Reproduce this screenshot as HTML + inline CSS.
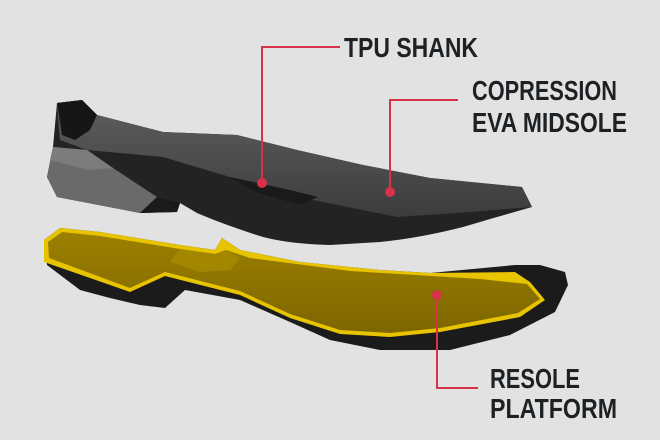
<!DOCTYPE html>
<html><head><meta charset="utf-8"><style>
html,body{margin:0;padding:0;background:#e2e2e2;}
svg{display:block}
text{font-family:"Liberation Sans",sans-serif;font-weight:bold;fill:#1e2124;}
</style></head><body>
<svg width="660" height="440" viewBox="0 0 660 440">
<defs>
<linearGradient id="up" x1="0" y1="0" x2="0" y2="1"><stop offset="0" stop-color="#5e5e5e"/><stop offset="1" stop-color="#3c3c3c"/></linearGradient>
<linearGradient id="yel" x1="0" y1="0" x2="0" y2="1"><stop offset="0" stop-color="#9c8000"/><stop offset="1" stop-color="#7e6600"/></linearGradient>
</defs>
<!-- upper midsole outline (black base) -->
<path d="M57,103 L82,100 L97,115 L163,132 L237,135 L297,150 L363,165 L430,178 L522,187 L532,207 L497,217 L463,227 Q420,238 380,242 L330,245 Q290,244 263,237 Q225,225 197,213 L180,203 L177,212 L140,213 L57,197 L47,177 L53,147 Z" fill="#232323"/>
<!-- gray upper surface -->
<path d="M57,103 L82,100 L97,115 L163,132 L237,135 L297,150 L363,165 L430,178 L522,187 L532,207 L470,212 L397,217 L313,200 L230,177 L163,157 L87,150 L60,140 Z" fill="url(#up)"/>
<path d="M57,103 L82,100 L97,115 L90,130 L75,140 L62,135 Z" fill="#161616"/>
<path d="M230,177 L290,190 L318,197 L300,205 L255,192 Z" fill="#1a1a1a"/>
<!-- heel gray -->
<path d="M53,147 L87,150 L113,168 L157,197 L140,213 L57,197 L47,177 Z" fill="#6a6a6a"/>
<path d="M53,147 L87,150 L113,168 L88,170 L50,160 Z" fill="#7c7c7c"/>
<path d="M157,197 L180,203 L177,212 L140,213 Z" fill="#1a1a1a"/>
<!-- lower sole black -->
<path d="M44,240 L47,265 L80,290 L110,298 L140,305 L165,308 L185,290 L240,300 L290,322 L330,340 L380,350 L450,350 L510,335 L555,312 L568,285 L565,272 L540,265 L515,265 L430,273 L380,270 L300,262 L240,250 L222,238 L215,250 L180,245 L100,232 L60,228 Z" fill="#1b1b1b"/>
<!-- yellow rim -->
<path d="M44,240 L44,262 L130,292 L165,276 L240,295 L290,318 L340,334 L390,337 L440,332 L520,317 L545,300 L530,282 L515,272 L430,273 L380,270 L300,262 L240,250 L222,238 L215,250 L180,245 L100,232 L60,228 Z" fill="#e8c300"/>
<!-- yellow inner -->
<path d="M48,242 L49,258 L130,288 L165,272 L240,291 L290,314 L340,330 L390,333 L440,328 L518,313 L540,299 L527,284 L480,279 L350,271 L250,258 L226,250 L215,254 L180,249 L100,236 L62,232 Z" fill="url(#yel)"/>
<path d="M180,249 L215,254 L226,250 L240,258 L230,270 L200,272 L170,262 Z" fill="#a88b00" opacity="0.8"/>
<!-- connectors -->
<g stroke="#d8314a" stroke-width="2" fill="none">
<path d="M340,47 H262 V183"/>
<path d="M458,100 H390 V192"/>
<path d="M437,295 V388 H478"/>
</g>
<g fill="#d8314a"><circle cx="262" cy="183" r="5"/><circle cx="390" cy="192" r="5"/><circle cx="437" cy="295" r="5"/></g>
<text x="344" y="57" font-size="28" textLength="134" lengthAdjust="spacingAndGlyphs">TPU SHANK</text>
<text x="472" y="100" font-size="28" textLength="145" lengthAdjust="spacingAndGlyphs">COPRESSION</text>
<text x="472" y="132" font-size="28" textLength="155" lengthAdjust="spacingAndGlyphs">EVA MIDSOLE</text>
<text x="490" y="388" font-size="28" textLength="90" lengthAdjust="spacingAndGlyphs">RESOLE</text>
<text x="490" y="418" font-size="28" textLength="127" lengthAdjust="spacingAndGlyphs">PLATFORM</text>
</svg>
</body></html>
